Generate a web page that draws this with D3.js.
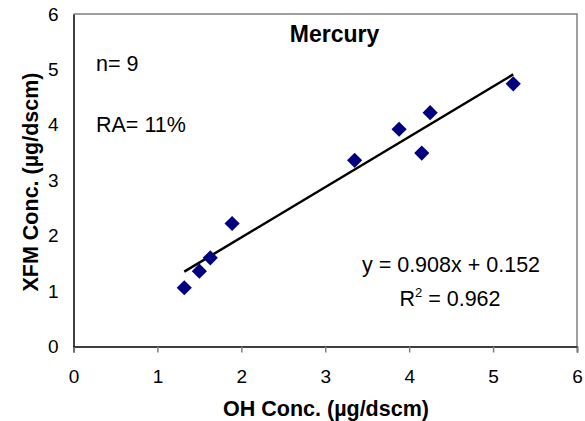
<!DOCTYPE html>
<html>
<head>
<meta charset="utf-8">
<script src="https://cdn.jsdelivr.net/npm/d3@7"></script>
<style>
  html, body { margin: 0; padding: 0; background: #fff; }
  svg { display: block; font-family: "Liberation Sans", Arial, sans-serif; }
</style>
</head>
<body>
<svg id="chart" width="585" height="421"></svg>
<script>
// OH vs XFM mercury concentrations (µg/dscm)
const ohConc  = [1.32, 1.50, 1.63, 1.89, 3.35, 3.88, 4.25, 4.15, 5.24];
const xfmConc = [1.06, 1.36, 1.60, 2.22, 3.36, 3.92, 4.22, 3.49, 4.74];
const xTicks = [0, 1, 2, 3, 4, 5, 6];
const yTicks = [0, 1, 2, 3, 4, 5, 6];
const fitSlope = 0.908;
const fitIntercept = 0.152;
const rSquared = 0.962;
const sampleCount = 9;
const relAccuracy = "11%";

const svg = d3.select("#chart");
const m = { left: 73.5, right: 577, top: 14, bottom: 346.5 };

const x = d3.scaleLinear().domain([0, 6]).range([m.left, m.right]);
const y = d3.scaleLinear().domain([0, 6]).range([m.bottom, m.top]);

// plot frame: grey top/right edges
svg.append("path")
  .attr("d", `M${m.left},${m.top}H${m.right}V${m.bottom}`)
  .attr("fill", "none").attr("stroke", "#808080").attr("stroke-width", 1.5);

// x axis
const xAxis = svg.append("g").attr("transform", `translate(0,${m.bottom})`)
  .call(d3.axisBottom(x).tickValues(xTicks).tickSize(6).tickPadding(17).tickFormat(d3.format("d")));
xAxis.select(".domain").attr("stroke", "#000").attr("stroke-width", 1.5);
xAxis.selectAll(".tick line").attr("stroke", "#808080").attr("stroke-width", 1.5);
xAxis.selectAll(".tick text").attr("font-size", 19).attr("fill", "#000")
  .attr("font-family", "Liberation Sans, Arial, sans-serif");

// y axis
const yAxis = svg.append("g").attr("transform", `translate(${m.left},0)`)
  .call(d3.axisLeft(y).tickValues(yTicks).tickSize(0).tickPadding(15).tickFormat(d3.format("d")));
yAxis.select(".domain").attr("stroke", "#000").attr("stroke-width", 1.5);
yAxis.selectAll(".tick text").attr("font-size", 19).attr("fill", "#000")
  .attr("font-family", "Liberation Sans, Arial, sans-serif");

// regression line over the sampled OH range
const [xMin, xMax] = d3.extent(ohConc);
svg.append("line")
  .attr("x1", x(xMin)).attr("y1", y(fitSlope * xMin + fitIntercept))
  .attr("x2", x(xMax)).attr("y2", y(fitSlope * xMax + fitIntercept))
  .attr("stroke", "#000").attr("stroke-width", 2.5);

// data markers
const diamond = d3.symbol().type(d3.symbolSquare).size(115);
svg.append("g").selectAll("path")
  .data(ohConc.map((v, i) => [v, xfmConc[i]]))
  .join("path")
  .attr("d", diamond)
  .attr("transform", d => `translate(${x(d[0])},${y(d[1])}) rotate(45)`)
  .attr("fill", "#000080");

// annotations
svg.append("text").attr("x", 334.5).attr("y", 42).attr("text-anchor", "middle")
  .attr("font-size", 23).attr("font-weight", "bold").text("Mercury");
svg.append("text").attr("x", 96).attr("y", 71).attr("font-size", 21.5).text(`n= ${sampleCount}`);
svg.append("text").attr("x", 96).attr("y", 132).attr("font-size", 21.5).text(`RA= ${relAccuracy}`);
svg.append("text").attr("x", 451).attr("y", 272).attr("text-anchor", "middle").attr("font-size", 21.5)
  .text(`y = ${fitSlope}x + ${fitIntercept}`);
const r2 = svg.append("text").attr("x", 450).attr("y", 306).attr("text-anchor", "middle").attr("font-size", 21.5);
r2.append("tspan").text("R");
r2.append("tspan").attr("font-size", 13).attr("dy", -9).text("2");
r2.append("tspan").attr("dy", 9).text(` = ${rSquared}`);

// axis titles
svg.append("text").attr("x", 326).attr("y", 416).attr("text-anchor", "middle")
  .attr("font-size", 21.5).attr("font-weight", "bold").text("OH Conc. (µg/dscm)");
svg.append("text").attr("transform", `translate(38,182) rotate(-90)`).attr("text-anchor", "middle")
  .attr("font-size", 21.5).attr("font-weight", "bold").text("XFM Conc. (µg/dscm)");
</script>
</body>
</html>
